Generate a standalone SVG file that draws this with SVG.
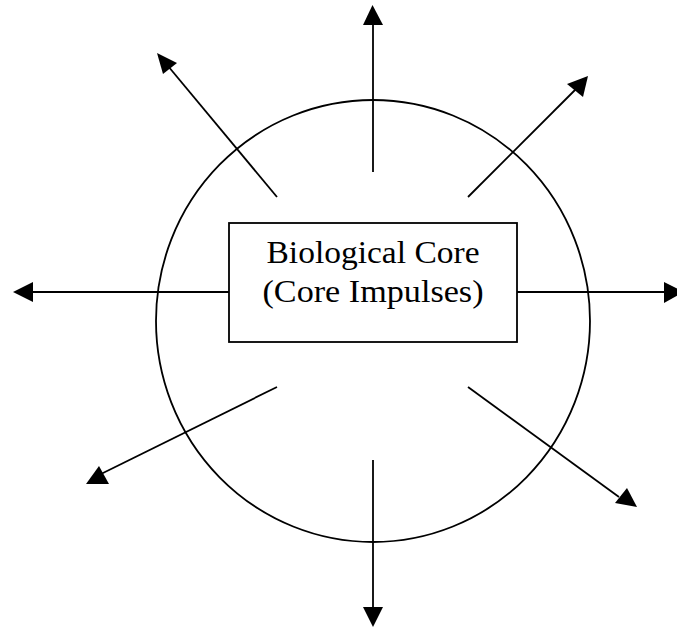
<svg xmlns="http://www.w3.org/2000/svg" width="677" height="628" viewBox="0 0 677 628">
<style>
.ln{stroke:#000;stroke-width:1.8;fill:none}
.hd{fill:#000;stroke:none}
.txt{font-family:"Liberation Serif","Times New Roman",serif;font-size:32px;fill:#000;text-anchor:middle}
</style>
<rect width="677" height="628" fill="#fff"/>
<g id="circle">
<ellipse cx="373" cy="321" rx="217" ry="221" class="ln" stroke-width="1.6"/>
</g>
<g id="connectors">
<line class="ln" x1="373" y1="172" x2="373" y2="24"/>
<polygon class="hd" points="372.5,5 363,25 383,25"/>
<line class="ln" x1="373" y1="460" x2="373" y2="608"/>
<polygon class="hd" points="363,607 383,607 373,627"/>
<line class="ln" x1="229" y1="292" x2="32" y2="292"/>
<polygon class="hd" points="13,292 33,282 33,302"/>
<line class="ln" x1="517" y1="292" x2="666" y2="292"/>
<polygon class="hd" points="664,282 664,303 684,292"/>
<line class="ln" x1="277" y1="197" x2="168" y2="66"/>
<polygon class="hd" points="157,53 177,63 163,74"/>
<line class="ln" x1="468" y1="197" x2="577" y2="88"/>
<polygon class="hd" points="588,76 567,84 583,97"/>
<line class="ln" x1="277" y1="387" x2="101" y2="474"/>
<polygon class="hd" points="99,466 86,484 109,484"/>
<line class="ln" x1="468" y1="387" x2="619" y2="497"/>
<polygon class="hd" points="615,503 627,488 637,507"/>
</g>
<g id="core">
<rect x="229" y="223" width="288" height="119" fill="#fff" stroke="#000" stroke-width="1.8"/>
<text class="txt" x="373" y="263" textLength="213" lengthAdjust="spacingAndGlyphs">Biological Core</text>
<text class="txt" x="373" y="302" textLength="221" lengthAdjust="spacingAndGlyphs">(Core Impulses)</text>
</g>
</svg>
